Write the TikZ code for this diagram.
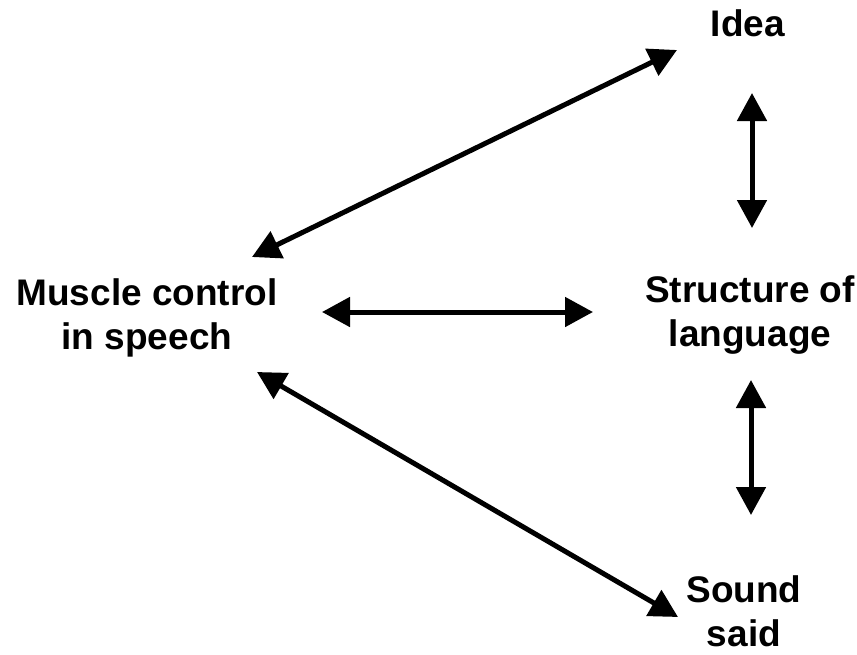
\documentclass[tikz,border=0pt]{standalone}
\usepackage{fontspec}
\setmainfont{Liberation Sans}
\usetikzlibrary{arrows.meta}

\begin{document}
\begin{tikzpicture}[x=1pt,y=-1pt,
    lbl/.style={font=\fontsize{37}{44}\selectfont\bfseries,align=center},
    both/.style={{Triangle[length=28pt,width=29pt]}-{Triangle[length=28pt,width=29pt]},line width=5pt}]
    \useasboundingbox (0,0) rectangle (857,654);
    % texts
    \node[lbl] (idea) at (748,23) {Idea};
    \node[lbl] (muscle) at (147,318) {Muscle control\\in speech};
    \node[lbl] (struct) at (750,315) {Structure of\\language};
    \node[lbl] (sound) at (744,611) {Sound\\said};
    % arrow ends
    \coordinate (mi) at (252,257);
    \coordinate (im) at (677,50);
    \coordinate (ms) at (322,312);
    \coordinate (sm) at (593,312);
    \coordinate (mo) at (257,372);
    \coordinate (om) at (678,617);
    \coordinate (iu) at (752,93);
    \coordinate (id) at (752,228);
    \coordinate (su) at (751,380);
    \coordinate (sd) at (751,515);
    % arrows
    \draw[both] (mi)--(im);
    \draw[both] (ms)--(sm);
    \draw[both] (mo)--(om);
    \draw[both] (iu)--(id);
    \draw[both] (su)--(sd);
\end{tikzpicture}
\end{document}
